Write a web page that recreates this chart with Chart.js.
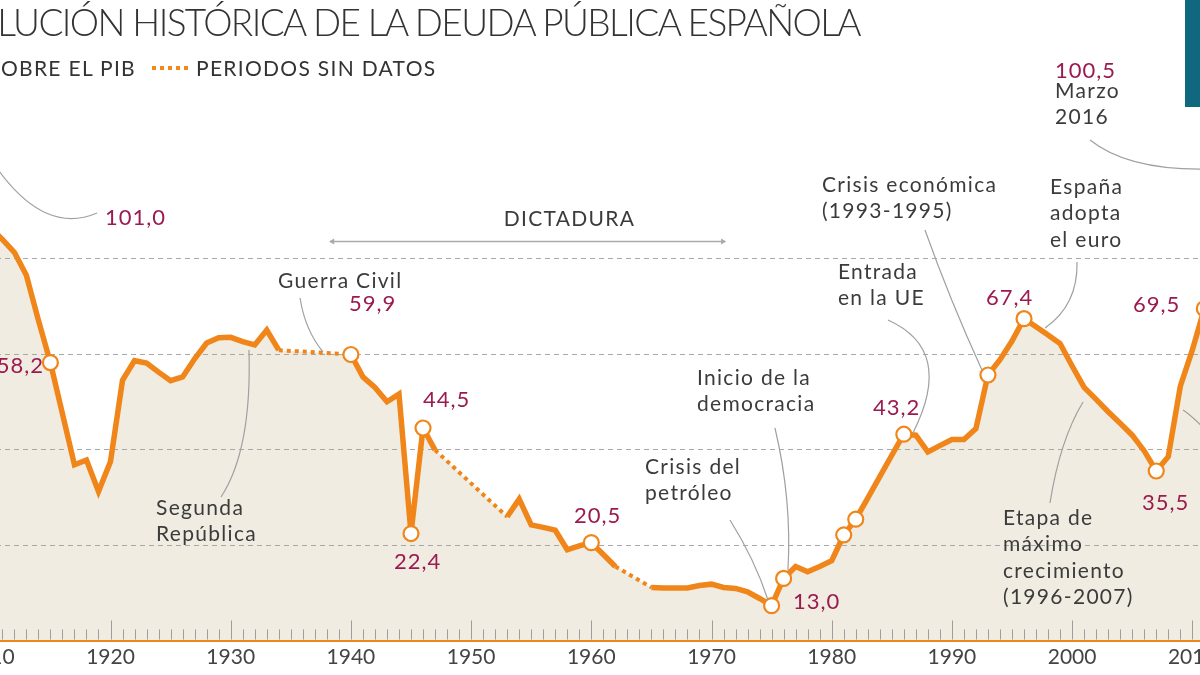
<!DOCTYPE html>
<html><head><meta charset="utf-8">
<script src="https://cdn.jsdelivr.net/npm/chart.js@4.4.1/dist/chart.umd.min.js"></script>
<style>
html,body{margin:0;padding:0;width:1200px;height:675px;overflow:hidden;background:#fff;font-family:Lato,'Open Sans',sans-serif;}
#wrap{position:absolute;left:-200px;top:0;width:1600px;height:675px;}
#title{position:absolute;right:340px;top:0;font-size:37px;font-weight:300;color:#333;white-space:nowrap;line-height:44px;}
.sub{position:absolute;top:55px;font-size:21px;line-height:25px;color:#333;white-space:nowrap;letter-spacing:1.3px;}
#sub1{right:1064px;}
#sub2{left:196px;}
#dots{position:absolute;left:152px;top:66px;width:36px;height:4px;background:repeating-linear-gradient(90deg,#f08a1d 0 4px,transparent 4px 8px);}
#solid{position:absolute;left:-60px;top:66px;width:36px;height:4px;background:#f08a1d;}
#teal{position:absolute;left:1185px;top:0;width:20px;height:107px;background:#10687e;}
</style></head>
<body>
<div id="wrap"><canvas id="c"></canvas></div>
<div id="title"><span>EVO</span><span id="tvis">LUCIÓN HISTÓRICA DE LA DEUDA PÚBLICA ESPAÑOLA</span></div>
<div id="solid"></div>
<div class="sub" id="sub1">% SOBRE EL PIB</div>
<div id="dots"></div>
<div class="sub" id="sub2">PERIODOS SIN DATOS</div>
<div id="teal"></div>
<script>
// ---- data ----
const years = [1905,1906,1907,1908,1909,1910,1911,1912,1913,1914,1915,1916,1917,1918,1919,1920,
1921,1922,1923,1924,1925,1926,1927,1928,1929,1930,1931,1932,1933,1934,1935,1936,1937,1938,1939,1940,
1941,1942,1943,1944,1945,1946,1947,1948,1949,1950,1951,1952,1953,1954,1955,1956,1957,1958,1959,1960,
1961,1962,1963,1964,1965,1966,1967,1968,1969,1970,1971,1972,1973,1974,1975,1976,1977,1978,1979,1980,
1981,1982,1983,1984,1985,1986,1987,1988,1989,1990,1991,1992,1993,1994,1995,1996,1997,1998,1999,2000,
2001,2002,2003,2004,2005,2006,2007,2008,2009,2010,2011,2012,2013,2014,2015,2016];
const debtPctGDP = [92,96,99,101.0,95,86.5,84.0,81.3,76.5,67.1,58.2,47.5,36.8,37.8,31.2,37.5,
54.5,58.6,58.1,56.2,54.4,55.2,59.0,62.3,63.4,63.5,62.6,61.9,65.0,60.8,null,null,null,null,null,59.9,
55.2,53.0,50.0,51.6,22.4,44.5,39.9,null,null,null,null,null,25.9,29.6,24.2,23.7,23.1,19.0,19.8,20.5,
18.0,15.5,null,null,11.1,11.0,11.0,11.0,11.5,11.8,11.1,10.9,10.2,8.8,7.3,13.0,15.5,14.4,15.5,16.7,
22.1,25.4,29.8,34.3,38.8,43.2,43.0,39.5,40.8,42.1,42.1,44.4,55.6,58.8,62.7,67.4,65.7,64.0,62.2,57.5,
53.0,50.5,47.9,45.5,43.0,39.7,35.5,38.5,53.2,60.8,69.5,85.7,95.5,100.4,99.8,100.5];
const highlightYears = [1908,1915,1940,1945,1946,1960,1975,1976,1981,1982,1986,1993,1996,2007,2011,2016];
const xTickYears = [1910,1920,1930,1940,1950,1960,1970,1980,1990,2000,2010];
const gridValues = [20,40,60,80];

// annotations: [year, value, align, kind, lines]
const notes = [
 [1919.54, 88.48, 'left', 'num', ['101,0']],
 [1958.19, 88.27, 'center', 'txt', ['DICTADURA']],
 [1933.94, 75.29, 'left', 'txt', ['Guerra Civil']],
 [1939.84, 70.47, 'left', 'num', ['59,9']],
 [1914.47, 57.49, 'right', 'num', ['58,2']],
 [1946.00, 50.37, 'left', 'num', ['44,5']],
 [1943.59, 16.44, 'left', 'num', ['22,4']],
 [1958.56, 26.07, 'left', 'num', ['20,5']],
 [1923.79, 27.75, 'left', 'txt', ['Segunda','República']],
 [1964.47, 36.34, 'left', 'txt', ['Crisis del','petróleo']],
 [1968.79, 54.97, 'left', 'txt', ['Inicio de la','democracia']],
 [1976.78, 8.06, 'left', 'num', ['13,0']],
 [1983.44, 48.69, 'left', 'num', ['43,2']],
 [1980.52, 77.17, 'left', 'txt', ['Entrada','en la UE']],
 [1979.19, 95.39, 'left', 'txt', ['Crisis económica','(1993-1995)']],
 [1992.84, 71.73, 'left', 'num', ['67,4']],
 [1998.16, 94.97, 'left', 'txt', ['España','adopta','el euro']],
 [2005.07, 70.26, 'left', 'num', ['69,5']],
 [2005.81, 28.80, 'left', 'num', ['35,5']],
 [1994.25, 25.65, 'left', 'txt', ['Etapa de','máximo','crecimiento','(1996-2007)']],
 [1998.58, 119.27, 'left', 'num', ['100,5']],
 [1998.58, 115.08, 'left', 'txt', ['Marzo','2016']]
];
// leader curves: start, control, end as [year, value]
const leaders = [
 [[1909.14,104.5],[1913.8,84.0],[1918.88,89.53]],
 [[1931.52,60.84],[1931.77,39.90],[1929.19,30.05]],
 [[1935.77,71.73],[1936.18,65.03],[1937.68,60.42]],
 [[1971.54,25.24],[1973.62,16.86],[1974.70,8.48]],
 [[1975.28,44.50],[1976.70,29.42],[1976.36,14.76]],
 [[1984.68,67.12],[1990.26,60.84],[1986.76,43.46]],
 [[1987.76,85.97],[1989.84,71.31],[1992.50,56.65]],
 [[2000.41,79.27],[2000.49,70.26],[1997.75,65.45]],
 [[2000.91,49.95],[1998.99,41.99],[1998.16,28.80]],
 [[2009.23,48.27],[2010.22,46.60],[2011.89,41.99]],
 [[2001.49,104.82],[2005.65,96.44],[2015.63,99.58]]
];
const dictaduraSpan = [1938.27, 1971.13, 83.66];

const ORANGE = '#f0861a';
const FONT = 'Lato, "Open Sans", sans-serif';

const minorTicks = {
  id: 'minorTicks',
  afterDatasetsDraw(chart) {
    const {ctx, scales: {x}, chartArea} = chart;
    ctx.save();
    ctx.strokeStyle = '#9d9d9d'; ctx.lineWidth = 1;
    for (let yr = Math.ceil(x.min) + 1; yr < x.max; yr++) {
      const px = Math.round(x.getPixelForValue(yr)) + 0.5;
      const len = yr % 10 === 0 ? 20 : 11;
      ctx.beginPath(); ctx.moveTo(px, chartArea.bottom - 1); ctx.lineTo(px, chartArea.bottom - len); ctx.stroke();
    }
    ctx.restore();
  }
};

const annotations = {
  id: 'annotations',
  afterDraw(chart) {
    const {ctx, scales: {x, y}} = chart;
    const P = (p) => [x.getPixelForValue(p[0]), y.getPixelForValue(p[1])];
    ctx.save();
    ctx.strokeStyle = '#a0a0a0'; ctx.lineWidth = 1.2;
    leaders.forEach(l => {
      const a = P(l[0]), c = P(l[1]), b = P(l[2]);
      ctx.beginPath(); ctx.moveTo(a[0], a[1]); ctx.quadraticCurveTo(c[0], c[1], b[0], b[1]); ctx.stroke();
    });
    const x0 = x.getPixelForValue(dictaduraSpan[0]), x1 = x.getPixelForValue(dictaduraSpan[1]);
    const yy = Math.round(y.getPixelForValue(dictaduraSpan[2])) + 0.5;
    ctx.strokeStyle = '#aaaaaa'; ctx.lineWidth = 1.5;
    ctx.beginPath(); ctx.moveTo(x0, yy); ctx.lineTo(x1, yy); ctx.stroke();
    ctx.fillStyle = '#aaaaaa';
    ctx.beginPath(); ctx.moveTo(x0 - 1, yy); ctx.lineTo(x0 + 4, yy - 3); ctx.lineTo(x0 + 4, yy + 3); ctx.fill();
    ctx.beginPath(); ctx.moveTo(x1 + 1, yy); ctx.lineTo(x1 - 4, yy - 3); ctx.lineTo(x1 - 4, yy + 3); ctx.fill();
    ctx.textBaseline = 'middle';
    notes.forEach(n => {
      const [yr, v, align, kind, lines] = n;
      ctx.font = (kind === 'num' ? '22px ' : '21px ') + FONT;
      ctx.letterSpacing = kind === 'num' ? '1px' : '1.3px';
      ctx.fillStyle = kind === 'num' ? '#9b1a4f' : '#3b3b3b';
      ctx.textAlign = align;
      const px = x.getPixelForValue(yr), py = y.getPixelForValue(v);
      lines.forEach((t, i) => ctx.fillText(t, px, py + i * 26.5));
    });
    ctx.restore();
  }
};

const points = years.map((yr, i) => ({x: yr, y: debtPctGDP[i]}));
const isGap = ctx => ctx.p0.skip || ctx.p1.skip;

new Chart(document.getElementById('c'), {
  type: 'line',
  data: {
    datasets: [{
      // area under the curve (continuous across periods without data)
      data: points,
      borderWidth: 0,
      borderColor: 'rgba(0,0,0,0)',
      backgroundColor: '#f1ece2',
      fill: 'origin',
      spanGaps: true,
      tension: 0,
      pointRadius: 0,
      pointHoverRadius: 0
    }, {
      data: points,
      borderColor: ORANGE,
      borderWidth: 5.5,
      fill: false,
      spanGaps: true,
      tension: 0,
      pointRadius: ctx => highlightYears.includes(years[ctx.dataIndex]) ? 7.5 : 0,
      pointHoverRadius: 0,
      pointBackgroundColor: '#ffffff',
      pointBorderColor: ORANGE,
      pointBorderWidth: 2.2,
      segment: {
        borderDash: ctx => isGap(ctx) ? [4, 4] : undefined,
        borderWidth: ctx => isGap(ctx) ? 4 : undefined
      }
    }]
  },
  options: {
    responsive: true,
    maintainAspectRatio: false,
    animation: false,
    events: [],
    layout: {padding: {left: 70.1, right: 87.5, top: 67.5, bottom: 0}},
    plugins: {legend: {display: false}, tooltip: {enabled: false}, filler: {drawTime: 'beforeDraw'}},
    scales: {
      x: {
        type: 'linear', min: 1900, max: 2020,
        afterFit: s => { s.height = 34.5; },
        afterBuildTicks: s => { s.ticks = xTickYears.map(v => ({value: v})); },
        grid: {display: false, drawTicks: false},
        border: {display: true, color: ORANGE, width: 2},
        ticks: {font: {family: FONT, size: 21}, color: '#444', padding: 4, maxRotation: 0, autoSkip: false,
                callback: v => String(v)}
      },
      y: {
        min: 0, max: 120,
        afterFit: s => { s.width = 0; },
        afterBuildTicks: s => { s.ticks = gridValues.map(v => ({value: v})); },
        ticks: {display: false},
        grid: {drawTicks: false, color: '#a8a8a8', lineWidth: 1},
        border: {display: false, dash: [5, 4]}
      }
    }
  },
  plugins: [minorTicks, annotations]
});

const tv = document.getElementById('tvis');
const w = tv.getBoundingClientRect().width;
const n = tv.textContent.length;
document.getElementById('title').style.letterSpacing = ((858 - w) / (n + 3)) + 'px';
</script>
</body></html>
